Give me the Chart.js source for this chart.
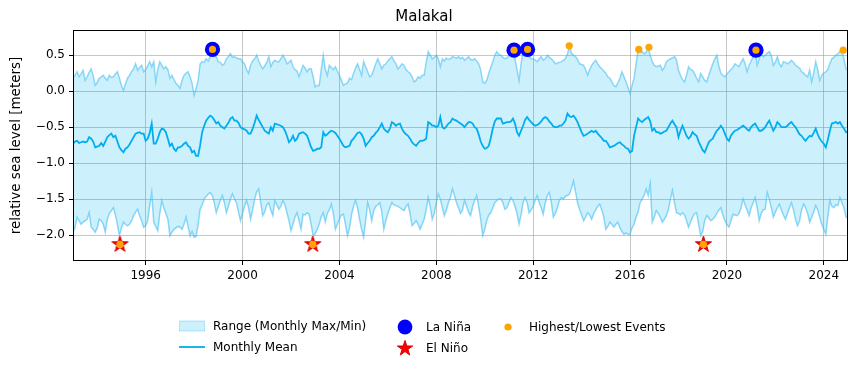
<!DOCTYPE html>
<html>
<head>
<meta charset="utf-8">
<title>Malakal</title>
<script src="https://cdn.jsdelivr.net/npm/chart.js@4.4.1/dist/chart.umd.min.js"></script>
<style>
  body { margin: 0; background: #fff; }
  #wrap { position: relative; width: 858px; height: 370px; font-family: 'DejaVu Sans', sans-serif; }
  .item { position: absolute; display: flex; align-items: center; height: 18px; font-size: 12px; color: #000; white-space: nowrap; }
  .item svg { width: 26px; height: 18px; margin-right: 8px; }
</style>
</head>
<body>
<div id="wrap">
  <canvas id="chart" width="858" height="370"></canvas>
  <div id="legend"></div>
</div>
<script>
// Monthly sea level at Malakal, Jan 1993 .. Jan 2025 (one value per month)
const startYear = 1993;

const monthlyMax = [
  0.18, 0.22, 0.27, 0.20, 0.24, 0.29, 0.15, 0.20, 0.26, 0.31, 0.22, 0.08,
  0.12, 0.18, 0.20, 0.22, 0.18, 0.15, 0.22, 0.19, 0.20, 0.24, 0.27, 0.18,
  0.08, 0.01, 0.10, 0.18, 0.22, 0.27, 0.31, 0.38, 0.29, 0.33, 0.36, 0.27,
  0.30, 0.35, 0.41, 0.34, 0.41, 0.13, 0.30, 0.41, 0.36, 0.31, 0.34, 0.30,
  0.18, 0.22, 0.16, 0.11, 0.08, 0.04, 0.15, 0.22, 0.25, 0.27, 0.20, 0.11,
  -0.06, 0.04, 0.15, 0.38, 0.41, 0.40, 0.45, 0.42, 0.48, 0.56, 0.52, 0.48,
  0.41, 0.40, 0.36, 0.38, 0.45, 0.48, 0.52, 0.47, 0.48, 0.46, 0.45, 0.45,
  0.41, 0.38, 0.30, 0.25, 0.36, 0.42, 0.45, 0.50, 0.42, 0.36, 0.31, 0.35,
  0.40, 0.48, 0.34, 0.40, 0.43, 0.41, 0.41, 0.45, 0.50, 0.45, 0.38, 0.40,
  0.43, 0.34, 0.30, 0.28, 0.20, 0.28, 0.36, 0.32, 0.27, 0.31, 0.31, 0.20,
  0.06, 0.08, 0.08, 0.30, 0.50, 0.30, 0.22, 0.36, 0.33, 0.30, 0.34, 0.28,
  0.22, 0.15, 0.08, 0.10, 0.11, 0.18, 0.16, 0.25, 0.32, 0.38, 0.30, 0.22,
  0.41, 0.34, 0.27, 0.20, 0.22, 0.30, 0.38, 0.45, 0.38, 0.31, 0.36, 0.38,
  0.42, 0.45, 0.48, 0.42, 0.38, 0.31, 0.34, 0.38, 0.36, 0.30, 0.27, 0.25,
  0.20, 0.13, 0.15, 0.20, 0.18, 0.22, 0.22, 0.40, 0.55, 0.50, 0.45, 0.47,
  0.50, 0.45, 0.34, 0.45, 0.42, 0.46, 0.44, 0.45, 0.48, 0.47, 0.46, 0.48,
  0.45, 0.47, 0.43, 0.45, 0.48, 0.44, 0.43, 0.45, 0.42, 0.38, 0.30, 0.13,
  0.11, 0.15, 0.25, 0.33, 0.41, 0.50, 0.55, 0.51, 0.50, 0.47, 0.45, 0.46,
  0.50, 0.53, 0.57, 0.45, 0.30, 0.15, 0.38, 0.55, 0.50, 0.57, 0.48, 0.45,
  0.45, 0.43, 0.41, 0.45, 0.48, 0.43, 0.45, 0.50, 0.47, 0.45, 0.42, 0.38,
  0.39, 0.40, 0.41, 0.43, 0.45, 0.52, 0.62, 0.53, 0.50, 0.48, 0.44, 0.38,
  0.37, 0.36, 0.30, 0.22, 0.30, 0.36, 0.40, 0.43, 0.38, 0.34, 0.31, 0.28,
  0.25, 0.20, 0.18, 0.13, 0.08, 0.06, 0.12, 0.18, 0.27, 0.20, 0.13, 0.05,
  -0.03, 0.08, 0.18, 0.38, 0.57, 0.54, 0.55, 0.52, 0.54, 0.60, 0.50, 0.41,
  0.36, 0.34, 0.35, 0.36, 0.29, 0.33, 0.41, 0.43, 0.45, 0.46, 0.48, 0.44,
  0.29, 0.22, 0.16, 0.13, 0.22, 0.34, 0.30, 0.29, 0.24, 0.18, 0.13, 0.25,
  0.20, 0.15, 0.13, 0.22, 0.30, 0.38, 0.45, 0.50, 0.35, 0.25, 0.22, 0.20,
  0.24, 0.27, 0.30, 0.33, 0.38, 0.36, 0.34, 0.40, 0.45, 0.38, 0.27, 0.36,
  0.42, 0.48, 0.55, 0.36, 0.45, 0.52, 0.48, 0.50, 0.53, 0.55, 0.50, 0.36,
  0.40, 0.48, 0.38, 0.34, 0.41, 0.40, 0.38, 0.40, 0.43, 0.40, 0.36, 0.34,
  0.32, 0.27, 0.25, 0.22, 0.20, 0.29, 0.13, 0.25, 0.41, 0.30, 0.15, 0.22,
  0.25, 0.27, 0.30, 0.38, 0.45, 0.47, 0.50, 0.52, 0.55, 0.57, 0.45, 0.31,
  0.30
];

const monthlyMean = [
  -0.73, -0.70, -0.69, -0.72, -0.71, -0.70, -0.71, -0.70, -0.64, -0.66, -0.70, -0.78,
  -0.77, -0.76, -0.72, -0.76, -0.70, -0.64, -0.61, -0.59, -0.64, -0.62, -0.70, -0.78,
  -0.82, -0.85, -0.80, -0.78, -0.74, -0.69, -0.64, -0.59, -0.58, -0.57, -0.59, -0.59,
  -0.69, -0.66, -0.58, -0.45, -0.73, -0.73, -0.66, -0.57, -0.52, -0.53, -0.57, -0.66,
  -0.76, -0.73, -0.80, -0.83, -0.78, -0.78, -0.76, -0.73, -0.71, -0.76, -0.78, -0.85,
  -0.83, -0.90, -0.90, -0.75, -0.57, -0.48, -0.41, -0.37, -0.34, -0.36, -0.40, -0.45,
  -0.43, -0.48, -0.50, -0.52, -0.48, -0.44, -0.38, -0.36, -0.41, -0.41, -0.44, -0.50,
  -0.52, -0.53, -0.55, -0.59, -0.59, -0.52, -0.44, -0.34, -0.40, -0.45, -0.50, -0.55,
  -0.57, -0.59, -0.50, -0.55, -0.45, -0.46, -0.47, -0.48, -0.50, -0.55, -0.62, -0.71,
  -0.68, -0.62, -0.69, -0.66, -0.59, -0.58, -0.57, -0.59, -0.62, -0.70, -0.78, -0.83,
  -0.82, -0.80, -0.80, -0.78, -0.57, -0.62, -0.60, -0.57, -0.55, -0.56, -0.58, -0.62,
  -0.66, -0.71, -0.76, -0.78, -0.77, -0.76, -0.69, -0.66, -0.62, -0.58, -0.57, -0.60,
  -0.66, -0.76, -0.72, -0.69, -0.64, -0.62, -0.58, -0.55, -0.50, -0.45, -0.52, -0.55,
  -0.57, -0.52, -0.43, -0.45, -0.48, -0.46, -0.45, -0.52, -0.57, -0.60, -0.62, -0.66,
  -0.71, -0.74, -0.76, -0.72, -0.69, -0.69, -0.68, -0.66, -0.43, -0.45, -0.48, -0.48,
  -0.50, -0.48, -0.36, -0.50, -0.52, -0.49, -0.45, -0.43, -0.38, -0.40, -0.41, -0.43,
  -0.45, -0.47, -0.50, -0.46, -0.43, -0.43, -0.45, -0.50, -0.52, -0.60, -0.70, -0.76,
  -0.80, -0.79, -0.76, -0.65, -0.52, -0.42, -0.38, -0.38, -0.38, -0.45, -0.44, -0.43,
  -0.43, -0.42, -0.38, -0.45, -0.57, -0.62, -0.55, -0.48, -0.40, -0.36, -0.40, -0.43,
  -0.46, -0.48, -0.47, -0.45, -0.42, -0.38, -0.36, -0.38, -0.42, -0.45, -0.49, -0.50,
  -0.50, -0.48, -0.48, -0.45, -0.41, -0.31, -0.35, -0.36, -0.34, -0.38, -0.43, -0.50,
  -0.57, -0.62, -0.61, -0.59, -0.57, -0.55, -0.57, -0.55, -0.59, -0.62, -0.65, -0.69,
  -0.69, -0.73, -0.78, -0.77, -0.76, -0.74, -0.72, -0.71, -0.74, -0.76, -0.79, -0.80,
  -0.85, -0.83, -0.62, -0.50, -0.38, -0.41, -0.43, -0.40, -0.38, -0.36, -0.42, -0.55,
  -0.52, -0.57, -0.57, -0.59, -0.58, -0.56, -0.55, -0.50, -0.45, -0.41, -0.46, -0.50,
  -0.64, -0.55, -0.48, -0.55, -0.62, -0.66, -0.63, -0.57, -0.60, -0.62, -0.70, -0.76,
  -0.82, -0.85, -0.78, -0.71, -0.68, -0.66, -0.60, -0.55, -0.52, -0.48, -0.52, -0.59,
  -0.66, -0.69, -0.62, -0.58, -0.55, -0.54, -0.52, -0.50, -0.48, -0.50, -0.53, -0.55,
  -0.50, -0.47, -0.45, -0.50, -0.55, -0.55, -0.53, -0.50, -0.45, -0.41, -0.48, -0.55,
  -0.50, -0.43, -0.46, -0.50, -0.50, -0.50, -0.48, -0.45, -0.43, -0.47, -0.50, -0.55,
  -0.60, -0.62, -0.66, -0.69, -0.65, -0.62, -0.63, -0.58, -0.52, -0.60, -0.66, -0.70,
  -0.73, -0.78, -0.68, -0.55, -0.45, -0.44, -0.43, -0.45, -0.43, -0.48, -0.52, -0.57,
  -0.56
];

const monthlyMin = [
  -1.96, -1.90, -1.75, -1.80, -1.85, -1.82, -1.80, -1.78, -1.69, -1.89, -1.92, -1.96,
  -1.90, -1.78, -1.80, -1.85, -1.96, -1.78, -1.70, -1.66, -1.62, -1.72, -1.85, -2.01,
  -1.90, -1.82, -1.85, -1.87, -1.85, -1.80, -1.73, -1.68, -1.64, -1.73, -1.80, -1.89,
  -1.87, -1.80, -1.59, -1.41, -1.82, -1.88, -1.94, -1.70, -1.52, -1.62, -1.70, -1.78,
  -2.01, -1.96, -1.92, -1.90, -1.88, -1.89, -1.92, -1.85, -1.75, -1.88, -2.01, -1.95,
  -2.03, -2.02, -1.85, -1.64, -1.58, -1.50, -1.46, -1.43, -1.41, -1.45, -1.55, -1.69,
  -1.60, -1.52, -1.45, -1.55, -1.69, -1.60, -1.50, -1.43, -1.50, -1.55, -1.68, -1.80,
  -1.70, -1.60, -1.52, -1.62, -1.78, -1.65, -1.50, -1.40, -1.36, -1.55, -1.73, -1.68,
  -1.58, -1.55, -1.65, -1.73, -1.52, -1.58, -1.64, -1.60, -1.52, -1.58, -1.69, -1.80,
  -1.94, -1.85, -1.75, -1.69, -1.80, -1.92, -1.71, -1.72, -1.69, -1.71, -1.85, -2.01,
  -1.98, -1.92, -1.85, -1.75, -1.69, -1.82, -1.70, -1.65, -1.57, -1.70, -1.92, -1.85,
  -1.78, -1.72, -1.71, -1.85, -2.01, -1.90, -1.72, -1.60, -1.52, -1.62, -1.78, -1.92,
  -2.03, -1.80, -1.55, -1.65, -1.80, -1.66, -1.60, -1.58, -1.55, -1.68, -1.92, -1.80,
  -1.70, -1.62, -1.55, -1.58, -1.59, -1.60, -1.62, -1.64, -1.66, -1.60, -1.57, -1.70,
  -1.87, -1.84, -1.80, -1.85, -1.92, -1.85, -1.78, -1.65, -1.48, -1.60, -1.78, -1.70,
  -1.55, -1.43, -1.50, -1.62, -1.73, -1.65, -1.55, -1.48, -1.36, -1.45, -1.55, -1.62,
  -1.70, -1.65, -1.52, -1.60, -1.68, -1.73, -1.60, -1.52, -1.45, -1.60, -1.78, -2.01,
  -1.92, -1.80, -1.72, -1.69, -1.62, -1.55, -1.52, -1.50, -1.50, -1.55, -1.64, -1.62,
  -1.55, -1.48, -1.52, -1.60, -1.70, -1.85, -1.72, -1.55, -1.48, -1.55, -1.69, -1.65,
  -1.60, -1.52, -1.45, -1.55, -1.62, -1.71, -1.55, -1.45, -1.41, -1.55, -1.75, -1.70,
  -1.62, -1.52, -1.48, -1.50, -1.46, -1.45, -1.43, -1.35, -1.25, -1.40, -1.55, -1.64,
  -1.72, -1.80, -1.75, -1.69, -1.72, -1.78, -1.70, -1.65, -1.60, -1.57, -1.65, -1.75,
  -1.92, -1.88, -1.82, -1.85, -1.89, -1.85, -1.82, -1.90, -1.95, -1.99, -1.97, -1.99,
  -1.99, -1.90, -1.85, -1.75, -1.68, -1.55, -1.50, -1.45, -1.36, -1.45, -1.29, -1.82,
  -1.75, -1.66, -1.70, -1.75, -1.82, -1.78, -1.73, -1.65, -1.50, -1.38, -1.55, -1.69,
  -1.70, -1.72, -1.69, -1.72, -1.80, -1.89, -1.82, -1.75, -1.70, -1.69, -1.85, -2.01,
  -1.95, -1.80, -1.73, -1.76, -1.80, -1.78, -1.75, -1.70, -1.65, -1.62, -1.72, -1.80,
  -1.85, -1.89, -1.80, -1.71, -1.72, -1.73, -1.70, -1.62, -1.50, -1.58, -1.65, -1.73,
  -1.62, -1.55, -1.48, -1.62, -1.80, -1.70, -1.65, -1.64, -1.41, -1.50, -1.62, -1.75,
  -1.68, -1.62, -1.57, -1.65, -1.72, -1.78, -1.70, -1.62, -1.55, -1.65, -1.78, -1.87,
  -1.80, -1.65, -1.57, -1.62, -1.70, -1.82, -1.75, -1.68, -1.59, -1.65, -1.75, -1.85,
  -1.92, -1.99, -1.75, -1.52, -1.60, -1.62, -1.58, -1.59, -1.48, -1.55, -1.62, -1.75,
  -1.76
];

// ENSO-related extremes (decimal year, metres)
const laNinaYears = [1998.76, 2011.21, 2011.77, 2021.20];
const laNinaLevels = [0.58, 0.57, 0.58, 0.57];
const elNinoYears = [1994.94, 2002.90, 2019.03];
const elNinoLevels = [-2.13, -2.13, -2.13];
const eventYears = [1998.76, 2011.21, 2011.77, 2021.20, 2013.49, 2016.36, 2016.78, 2024.80, 1994.94, 2002.90, 2019.03];
const eventLevels = [0.58, 0.57, 0.58, 0.57, 0.63, 0.58, 0.61, 0.57, -2.13, -2.13, -2.13];

const xTicks = [1996, 2000, 2004, 2008, 2012, 2016, 2020, 2024];
const yTicks = [-2.0, -1.5, -1.0, -0.5, 0.0, 0.5];

const fillColor = 'rgba(0, 178, 240, 0.2)';
const edgeColor = 'rgba(60, 185, 240, 0.55)';
const meanColor = 'rgb(0, 174, 239)';
const gridColor = 'rgba(160, 160, 160, 0.6)';

Chart.defaults.font.family = "'DejaVu Sans', sans-serif";
Chart.defaults.color = '#000';

function series(arr) {
  return arr.map((v, i) => ({ x: startYear + i / 12, y: v }));
}
function points(xs, ys) {
  return xs.map((x, i) => ({ x: x, y: ys[i] }));
}
function starPath(cx, cy, r) {
  const pts = [];
  for (let k = 0; k < 10; k++) {
    const rad = k % 2 ? r * 0.382 : r;
    const a = -Math.PI / 2 + k * Math.PI / 5;
    pts.push([cx + rad * Math.cos(a), cy + rad * Math.sin(a)]);
  }
  return pts;
}
function makeStar(r) {
  const size = Math.ceil(r * 2 + 4);
  const c = document.createElement('canvas');
  c.width = size; c.height = size;
  const g = c.getContext('2d');
  g.beginPath();
  starPath(size / 2, size / 2, r).forEach((p, i) => i ? g.lineTo(p[0], p[1]) : g.moveTo(p[0], p[1]));
  g.closePath();
  g.fillStyle = 'red';
  g.fill();
  g.strokeStyle = '#d40000';
  g.lineWidth = 1;
  g.stroke();
  return c;
}

// black box round the plot area, like matplotlib spines
const frame = {
  id: 'frame',
  afterDatasetsDraw(chart) {
    const { ctx, chartArea: a } = chart;
    ctx.save();
    ctx.strokeStyle = '#000';
    ctx.lineWidth = 1;
    ctx.strokeRect(Math.round(a.left) + 0.5, Math.round(a.top) + 0.5,
      Math.round(a.right - a.left) - 1, Math.round(a.bottom - a.top) - 1);
    ctx.restore();
  }
};

const tickFont = { size: 12 };

new Chart(document.getElementById('chart'), {
  type: 'line',
  data: {
    datasets: [
      {
        label: 'Highest/Lowest Events',
        data: points(eventYears, eventLevels),
        showLine: false,
        pointRadius: 3.6,
        pointBorderWidth: 0,
        pointBackgroundColor: 'orange',
        order: 0
      },
      {
        label: 'La Niña',
        data: points(laNinaYears, laNinaLevels),
        showLine: false,
        pointRadius: 7.6,
        pointBorderWidth: 0,
        pointBackgroundColor: 'blue',
        order: 1
      },
      {
        label: 'El Niño',
        data: points(elNinoYears, elNinoLevels),
        showLine: false,
        pointStyle: makeStar(8.5),
        order: 2
      },
      {
        label: 'Monthly Mean',
        data: series(monthlyMean),
        borderColor: meanColor,
        borderWidth: 1.8,
        pointRadius: 0,
        order: 3
      },
      {
        label: 'Range (Monthly Max/Min)',
        data: series(monthlyMax),
        borderColor: edgeColor,
        borderWidth: 1.5,
        backgroundColor: fillColor,
        fill: '+1',
        pointRadius: 0,
        order: 4
      },
      {
        label: 'Monthly Min',
        data: series(monthlyMin),
        borderColor: edgeColor,
        borderWidth: 1.5,
        pointRadius: 0,
        order: 5
      }
    ]
  },
  options: {
    responsive: false,
    animation: false,
    devicePixelRatio: 1,
    layout: { padding: { left: 0, right: 10, top: 0, bottom: 0 } },
    plugins: {
      legend: { display: false },
      tooltip: { enabled: false },
      title: {
        display: true,
        text: 'Malakal',
        color: '#000',
        font: { size: 15, weight: 'normal' },
        padding: { top: 8, bottom: 4 }
      }
    },
    scales: {
      x: {
        type: 'linear',
        min: 1993,
        max: 2025,
        afterBuildTicks: s => { s.ticks = xTicks.map(v => ({ value: v })); },
        afterFit: s => { s.height = 109; },
        ticks: { callback: v => String(v), font: tickFont, color: '#000', padding: 4, maxRotation: 0, autoSkip: false },
        grid: { color: gridColor, lineWidth: 1, tickColor: '#000', tickLength: 4 },
        border: { display: false }
      },
      y: {
        min: -2.36,
        max: 0.85,
        afterBuildTicks: s => { s.ticks = yTicks.map(v => ({ value: v })); },
        afterFit: s => { s.width = 73; },
        ticks: { callback: v => v.toFixed(1).replace('-', '\u2212'), font: tickFont, color: '#000', padding: 4 },
        grid: { color: gridColor, lineWidth: 1, tickColor: '#000', tickLength: 4 },
        border: { display: false },
        title: {
          display: true,
          text: 'relative sea level [meters]',
          color: '#000',
          font: { size: 13.5 },
          padding: { top: 8, bottom: 0 }
        }
      }
    }
  },
  plugins: [frame]
});

// legend below the plot, three columns like the original
const legendItems = [
  { label: 'Range (Monthly Max/Min)', icon: 'patch', left: 179, top: 317 },
  { label: 'Monthly Mean', icon: 'line', left: 179, top: 338 },
  { label: 'La Niña', icon: 'circle', left: 392, top: 318 },
  { label: 'El Niño', icon: 'star', left: 392, top: 339 },
  { label: 'Highest/Lowest Events', icon: 'dot', left: 495, top: 318 }
];

function iconSvg(kind) {
  let inner = '';
  if (kind === 'patch') {
    inner = `<rect x="0.5" y="4" width="25" height="10" fill="${fillColor}" stroke="rgba(60,185,240,0.35)"/>`;
  } else if (kind === 'line') {
    inner = `<line x1="0" y1="9" x2="26" y2="9" stroke="${meanColor}" stroke-width="1.8"/>`;
  } else if (kind === 'circle') {
    inner = '<circle cx="13" cy="9" r="7.4" fill="blue"/>';
  } else if (kind === 'star') {
    const pts = starPath(13, 9.5, 8).map(p => p[0].toFixed(2) + ',' + p[1].toFixed(2)).join(' ');
    inner = `<polygon points="${pts}" fill="red" stroke="#d40000" stroke-width="1"/>`;
  } else {
    inner = '<circle cx="13" cy="9" r="3.6" fill="orange"/>';
  }
  return `<svg viewBox="0 0 26 18">${inner}</svg>`;
}

const legend = document.getElementById('legend');
legendItems.forEach(item => {
  const div = document.createElement('div');
  div.className = 'item';
  div.style.left = item.left + 'px';
  div.style.top = item.top + 'px';
  div.innerHTML = iconSvg(item.icon) + '<span>' + item.label + '</span>';
  legend.appendChild(div);
});
</script>
</body>
</html>
